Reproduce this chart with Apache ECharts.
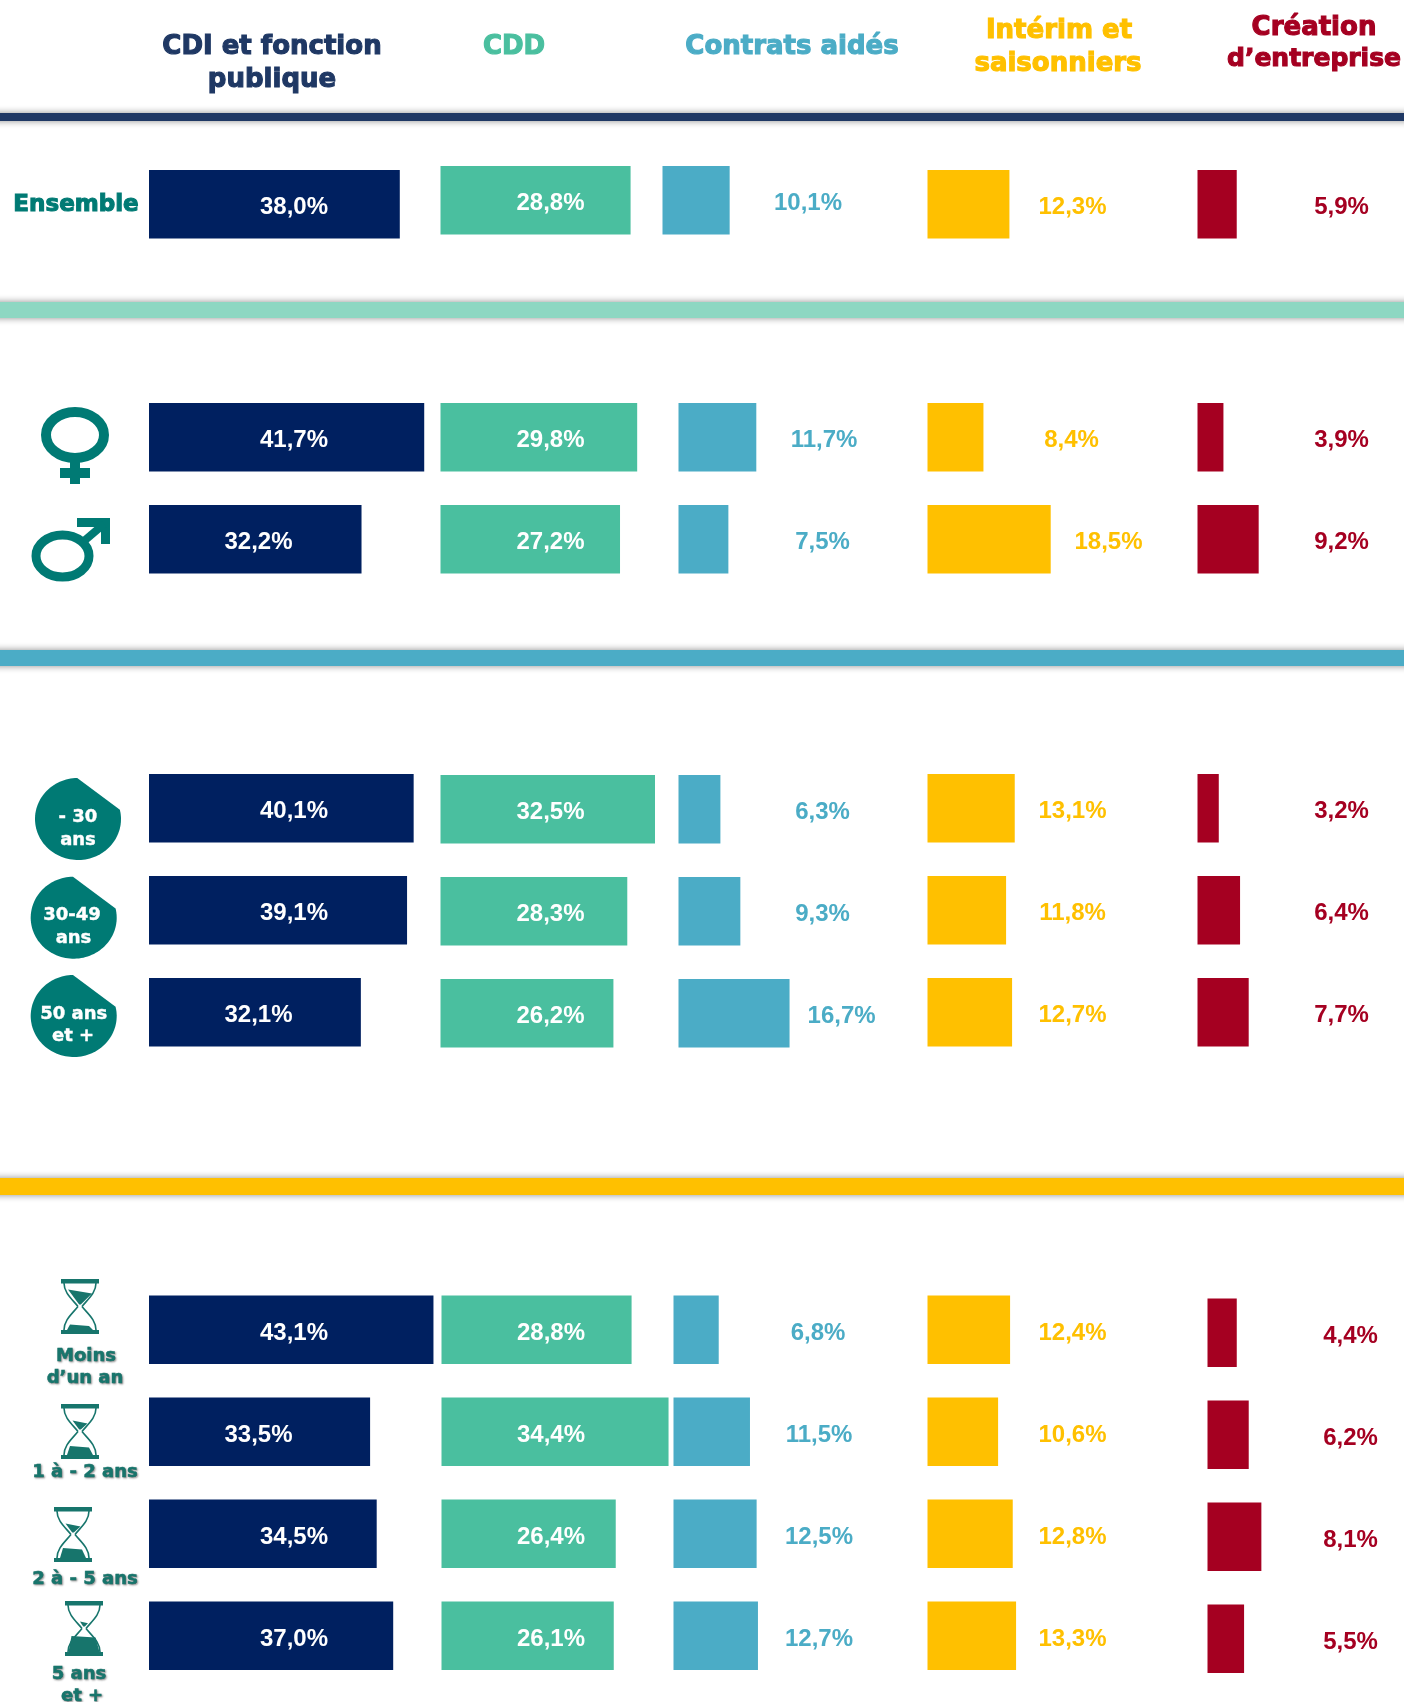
<!DOCTYPE html>
<html><head><meta charset="utf-8">
<style>html,body{margin:0;padding:0;background:#fff}#c{width:1404px;height:1702px}</style>
<script src="https://cdn.jsdelivr.net/npm/echarts@6/dist/echarts.min.js"></script>
</head><body><div id="c"></div>
<script>
// ---- data ----
const rows = ['Ensemble','Femmes','Hommes','- 30 ans','30-49 ans','50 ans et +','Moins d’un an','1 à - 2 ans','2 à - 5 ans','5 ans et +'];
const cdi      = [38.0,41.7,32.2,40.1,39.1,32.1,43.1,33.5,34.5,37.0];
const cdd      = [28.8,29.8,27.2,32.5,28.3,26.2,28.8,34.4,26.4,26.1];
const contrats = [10.1,11.7,7.5,6.3,9.3,16.7,6.8,11.5,12.5,12.7];
const interim  = [12.3,8.4,18.5,13.1,11.8,12.7,12.4,10.6,12.8,13.3];
const creation = [5.9,3.9,9.2,3.2,6.4,7.7,4.4,6.2,8.1,5.5];
const columns = [cdi,cdd,contrats,interim,creation];
const colNames = ['CDI et fonction publique','CDD','Contrats aidés','Intérim et saisonniers','Création d’entreprise'];

// ---- layout ----
const groups = [[0,1],[1,3],[3,6],[6,10]];            // row ranges
const colColor = ['#002060','#4ABF9F','#4BACC6','#FFC000','#A50021'];
const headColor = ['#1F3864','#4ABF9F','#4BACC6','#FFC000','#A50021'];
const pxPerUnit = [6.6,6.6,6.65,6.66,6.65];
const axisMax = [50,50,25,25,25];
const colLeft = [[149,440.5,662.5,927.5,1197.5],[149,440.5,678.5,927.5,1197.5],[149,440.5,678.5,927.5,1197.5],[149,441.5,673.5,927.5,1207.5]];
const firstTop = [[170,166,166,170,170],[403,403,403,403,403],[774,775,775,774,774],[1295.5,1295.5,1295.5,1295.5,1298.5]];
const pitch = 102, barH = 68.5;
const labelX = [
 [294,294,258.5,294,294,258.5,294,258.5,294,294],
 [550.5,550.5,550.5,550.5,550.5,550.5,551,551,551,551],
 [808,824,822.6,822.6,822.6,841.6,818,819,819,819],
 [1072.5,1071.5,1108.5,1072.5,1072.5,1072.5,1072.5,1072.5,1072.5,1072.5],
 [1341.5,1341.5,1341.5,1341.5,1341.5,1341.5,1350.5,1350.5,1350.5,1350.5]
];
const labelFont = '"Liberation Sans", Arial, sans-serif';
const heavyFont = '"DejaVu Sans", sans-serif';
const teal = '#007A74', tealH = '#17756C';

const fmt = v => v.toFixed(1).replace('.', ',') + '%';

const grid=[], xAxis=[], yAxis=[], series=[];
groups.forEach(([a,b],g)=>{
  columns.forEach((vals,c)=>{
    const idx = grid.length, n = b-a, left = colLeft[g][c];
    grid.push({left:left, width:axisMax[c]*pxPerUnit[c],
      top:firstTop[g][c]-(pitch-barH)/2, height:pitch*n});
    xAxis.push({type:'value',gridIndex:idx,min:0,max:axisMax[c],show:false});
    yAxis.push({type:'category',gridIndex:idx,inverse:true,show:false,data:rows.slice(a,b)});
    series.push({type:'bar',name:colNames[c],xAxisIndex:idx,yAxisIndex:idx,barWidth:barH,silent:true,
      itemStyle:{color:colColor[c]},
      data:vals.slice(a,b).map((v,i)=>({value:v,
        label:{show:true,position:[labelX[c][a+i]-left,'50%'],offset:[0,3.5],align:'center',verticalAlign:'middle',
          formatter:fmt(v),fontFamily:labelFont,fontWeight:'bold',fontSize:24,
          color:c<2?'#fff':colColor[c]}}))});
  });
});

// ---- decoration ----
const g = [];
function band(y,h,color){ g.push({type:'rect',shape:{x:-10,y:y,width:1424,height:h},z:5,
  style:{fill:color,shadowBlur:7,shadowColor:'rgba(0,0,0,.45)',shadowOffsetY:0}}); }
band(113,8,'#1F3864'); band(302,16,'#8DD7C2'); band(650,16,'#4BACC6'); band(1178,17,'#FFC000');
function txt(s,x,y,size,fill,extra){ g.push({type:'text',x:x,y:y,z:10,style:Object.assign({text:s,
  font:'bold '+size+'px '+heavyFont,fill:fill,align:'center',verticalAlign:'middle'},extra||{})}); }
const hv = c=>({stroke:c,lineWidth:1.1});
[['CDI et fonction',272,47,26,0],['publique',272,80,26,0],['CDD',514,47,26,1],['Contrats aidés',792,47,26,2],
 ['Intérim et',1059,31,26,3],['saisonniers',1058,64,26,3],['Création',1314,28,26,4],['d’entreprise',1314,59,25,4]]
 .forEach(t=>txt(t[0],t[1],t[2],t[3],headColor[t[4]],hv(headColor[t[4]])));
txt('Ensemble',76,205,23,teal,hv(teal));

// gender icons
g.push({type:'ellipse',shape:{cx:75,cy:435,rx:29,ry:23},z:10,style:{fill:'none',stroke:teal,lineWidth:10}});
g.push({type:'rect',shape:{x:70,y:462,width:10,height:22},z:10,style:{fill:teal}});
g.push({type:'rect',shape:{x:60,y:468,width:30,height:10},z:10,style:{fill:teal}});
g.push({type:'ellipse',shape:{cx:62.5,cy:556,rx:26.5,ry:21},z:10,style:{fill:'none',stroke:teal,lineWidth:9}});
g.push({type:'polygon',shape:{points:[[77,518],[110,518],[110,544],[101,544],[101,527],[77,527]]},z:10,style:{fill:teal}});
g.push({type:'line',shape:{x1:84,y1:541,x2:104,y2:524},z:10,style:{stroke:teal,lineWidth:8}});

// age stickers: an ellipse outline with its upper-right corner cut off
function sticker(cx,cy){
  const rx=43, ry=41, pts=[];
  for(let d=-13;d<=270;d+=3){ const t=d*Math.PI/180; pts.push([cx+rx*Math.cos(t),cy+ry*Math.sin(t)]); }
  g.push({type:'polygon',shape:{points:pts},z:10,style:{fill:teal}});
}
sticker(78,819); sticker(73.7,917.7); sticker(73.7,1016);
const wt = 18, wh={stroke:'#fff',lineWidth:0.4};
txt('- 30',78,817,wt,'#fff',wh); txt('ans',78,840,wt,'#fff',wh);
txt('30-49',72,915,wt,'#fff',wh); txt('ans',73.5,938,wt,'#fff',wh);
txt('50 ans',73.7,1014,wt,'#fff',wh); txt('et +',73,1036,wt,'#fff',wh);

// hourglasses
function hourglass(cx,top,topH,topW,botH,botW){
  const y=v=>top+v, x=v=>cx+v, H=55, mid=27.5;
  g.push({type:'rect',shape:{x:x(-19),y:y(0),width:38,height:4.5},z:10,style:{fill:tealH}});
  g.push({type:'rect',shape:{x:x(-19),y:y(H-4),width:38,height:4},z:10,style:{fill:tealH}});
  [-1,1].forEach(s=>{
    g.push({type:'bezierCurve',shape:{x1:x(s*16),y1:y(4),cpx1:x(s*16),cpy1:y(14),cpx2:x(s*8),cpy2:y(20),x2:x(s*2),y2:y(mid)},z:10,style:{fill:'none',stroke:tealH,lineWidth:1.6}});
    g.push({type:'bezierCurve',shape:{x1:x(s*2),y1:y(mid),cpx1:x(s*8),cpy1:y(35),cpx2:x(s*16),cpy2:y(41),x2:x(s*16),y2:y(H-4)},z:10,style:{fill:'none',stroke:tealH,lineWidth:1.6}});
  });
  const ts=y(mid-2-topH);
  g.push({type:'polygon',shape:{points:[[x(-topW),ts],[x(topW),ts+Math.min(4,topH/3)],[x(0.8),y(mid-2)],[x(-0.8),y(mid-2)]]},z:10,style:{fill:tealH}});
  const bs=y(H-4-botH);
  g.push({type:'polygon',shape:{points:[[x(-botW+3),bs],[x(botW-4),bs+1.5],[x(botW),y(H-4)],[x(-botW),y(H-4)]]},z:10,style:{fill:tealH}});
}
hourglass(80,1279,15,12,5.5,13); hourglass(80,1404,9,7.5,9,13); hourglass(73,1507,9,7.5,10,13); hourglass(84,1601,5,4,16,15.5);
const sh={stroke:tealH,lineWidth:0.5,textShadowColor:'rgba(0,0,0,.4)',textShadowBlur:2,textShadowOffsetX:1,textShadowOffsetY:1};
txt('Moins',86,1356,18,tealH,sh); txt('d’un an',85,1378,18,tealH,sh);
txt('1 à - 2 ans',85,1472,18,tealH,sh); txt('2 à - 5 ans',85,1579,18,tealH,sh);
txt('5 ans',79,1674,18,tealH,sh); txt('et +',82,1696,18,tealH,sh);

const chart = echarts.init(document.getElementById('c'),null,{renderer:'canvas'});
chart.setOption({animation:false,backgroundColor:'#fff',tooltip:{show:false},grid,xAxis,yAxis,series,graphic:{elements:g}});
</script></body></html>
